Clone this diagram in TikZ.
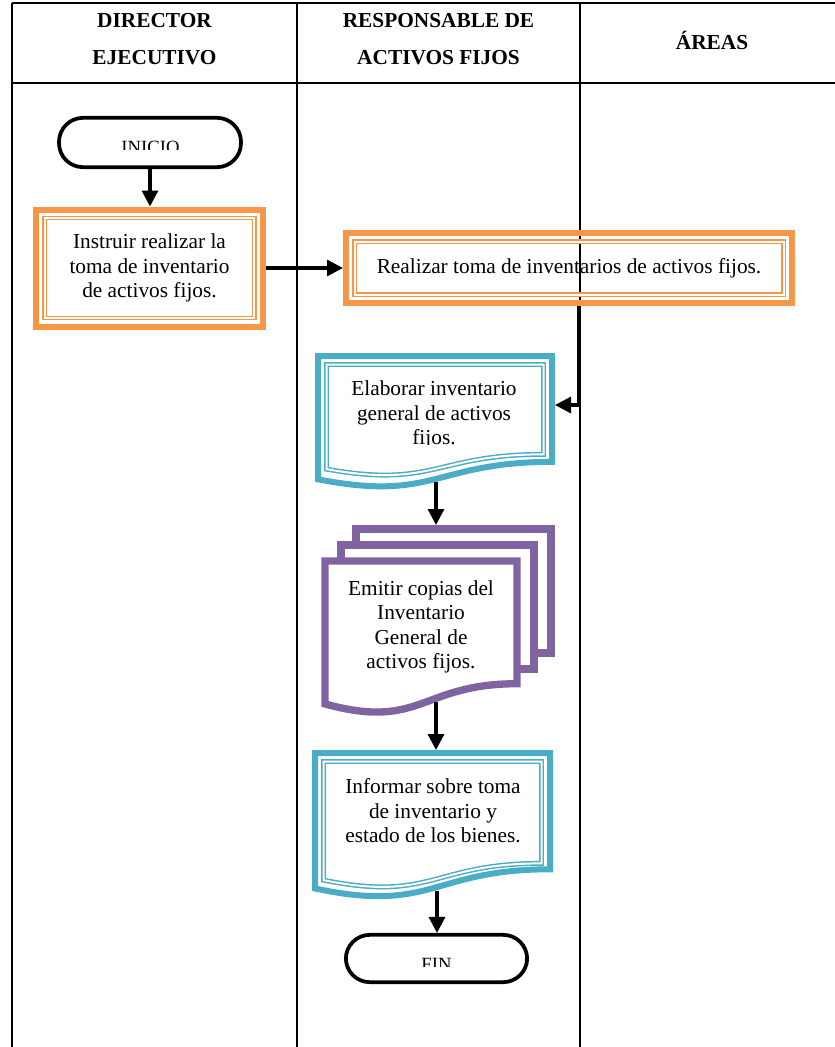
\documentclass[tikz,border=0pt]{standalone}
\usepackage{fontspec}
\setmainfont{Liberation Serif}
\usetikzlibrary{arrows.meta}
\definecolor{naranja}{HTML}{F79646}
\definecolor{celeste}{HTML}{4BACC6}
\definecolor{morado}{HTML}{8064A2}
\newcommand\docshape[5]{\draw[#1] (#2,#3) -- (#4,#3) -- (#4,{#3+0.802*#5})
  .. controls ({(#2+#4)/2},{#3+0.802*#5}) and ({(#2+#4)/2},{#3+1.1075*#5}) .. (#2,{#3+0.934*#5}) -- cycle;}

\begin{document}
\begin{tikzpicture}[x=0.75pt,y=-0.75pt,
  txt/.style={align=center,font=\fontsize{16}{18.4}\selectfont,inner sep=0pt},
  head/.style={align=center,font=\fontsize{16}{27.75}\selectfont\bfseries,inner sep=0pt},
  term/.style={draw,line width=2.8pt,rounded corners=18pt,minimum width=136.5pt,minimum height=37pt},
  proc/.style={draw=naranja,line width=4.5pt,align=center,font=\fontsize{16}{18.4}\selectfont},
  procin/.style={draw=naranja,line width=1.1pt,double=white,double distance=1.5pt},
  docu/.style={draw=celeste,line width=4.5pt,fill=white},
  docin/.style={draw=celeste,line width=1.1pt,double=white,double distance=1.5pt},
  multi/.style={draw=morado,line width=5.5pt,fill=white},
  flecha/.style={line width=2.4pt,-{Triangle[length=12pt,width=12pt]}},
  linea/.style={line width=1.2pt}]
  \useasboundingbox (0,0) rectangle (835,1047);
  \clip (0,0) rectangle (835,1047);
  % tabla
  \draw[linea] (12,3) -- (835,3) (12,83) -- (835,83);
  \foreach \x in {12,297,580} \draw[linea] (\x,3) -- (\x,1047);
  \node[head] (h1) at (154.5,39) {DIRECTOR\\EJECUTIVO};
  \node[head] (h2) at (438.5,39) {RESPONSABLE DE\\ACTIVOS FIJOS};
  \node[head] (h3) at (712,40) {ÁREAS};
  % inicio
  \node[term] (ini) at (150,142.5) {};
  \begin{scope}
    \clip (100,130) rectangle (200,149);
    \node[txt,font=\fontsize{14}{16}\selectfont,anchor=base] (ini-t) at (150.5,153) {INICIO};
  \end{scope}
  % procesos
  \node[proc,minimum width=170pt,minimum height=87.75pt] (instr) at (149.5,268)
    {Instruir realizar la\\toma de inventario\\de activos fijos.};
  \draw[procin] ([shift={(11.5,11.5)}]instr.north west) rectangle ([shift={(-11.5,-11.5)}]instr.south east);
  \node[proc,minimum width=334.5pt,minimum height=52.5pt] (realiza) at (569,268)
    {Realizar toma de inventarios de activos fijos.};
  \draw[procin] ([shift={(11.5,11.5)}]realiza.north west) rectangle ([shift={(-11.5,-11.5)}]realiza.south east);
  % documentos
  \docshape{docu}{318}{356}{552}{132}
  \docshape{docin}{326.5}{364.5}{543.5}{112}
  \begin{scope}
    \clip (310,350) rectangle (560,444);
    \node[txt] (elab) at (434,415) {Elaborar inventario\\general de activos\\fijos.};
  \end{scope}
  \draw[multi] (356,529) rectangle (551,653);
  \draw[multi] (341,545) rectangle (534,669);
  \docshape{multi}{325}{561}{517}{153}
  \node[txt] (emitir) at (421,627) {Emitir copias del\\Inventario\\General de\\activos fijos.};
  \docshape{docu}{315}{753}{550}{145}
  \docshape{docin}{323.5}{761.5}{541.5}{127}
  \node[txt] (informa) at (433,811) {Informar sobre toma\\de inventario y\\estado de los bienes.};
  % fin
  \node[term,minimum width=136pt,minimum height=35.5pt] (fin) at (436.5,958.5) {};
  \begin{scope}
    \clip (380,945) rectangle (490,966);
    \node[txt,font=\fontsize{14}{16}\selectfont,anchor=base] (fin-t) at (436.5,970) {FIN};
  \end{scope}
  % conectores
  \coordinate (codo) at (579,405);
  \coordinate (elab-e) at (555,405);
  \coordinate (elab-s) at (436,482);
  \coordinate (emitir-n) at (436,525);
  \coordinate (emitir-s) at (436,702);
  \coordinate (informa-n) at (436,750);
  \coordinate (informa-s) at (437,891);
  \draw[flecha] (ini.south) -- (ini.south |- instr.north);
  \draw[flecha] (instr.east) -- (instr.east -| realiza.west);
  \draw[flecha] (realiza.south -| codo) -- (codo) -- (elab-e);
  \draw[flecha] (elab-s) -- (emitir-n);
  \draw[flecha] (emitir-s) -- (informa-n);
  \draw[flecha] (informa-s) -- (informa-s |- fin.north);
\end{tikzpicture}
\end{document}
